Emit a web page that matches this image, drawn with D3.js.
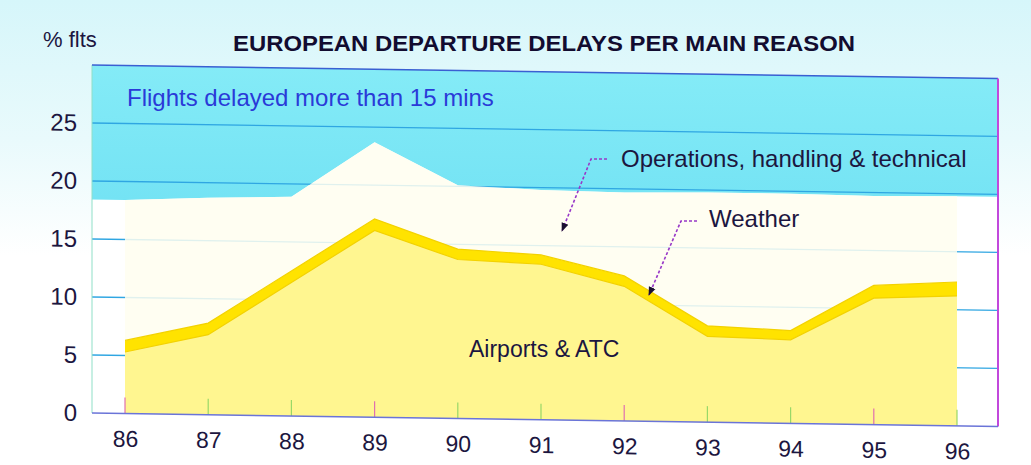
<!DOCTYPE html>
<html>
<head>
<meta charset="utf-8">
<script src="https://cdn.jsdelivr.net/npm/d3@7"></script>
<style>
  html, body { margin: 0; padding: 0; background: #ffffff; }
  svg { display: block; font-family: "Liberation Sans", Arial, Helvetica, sans-serif; }
</style>
</head>
<body>
<svg id="chart" width="1031" height="465"></svg>
<script>
// ---- data ----
const years = [86, 87, 88, 89, 90, 91, 92, 93, 94, 95, 96];
const airportsATC = [5.3, 6.9, 11.5, 16.1, 13.7, 13.4, 11.6, 7.4, 7.2, 10.9, 11.2];
const weather     = [1.0, 1.0, 1.0, 1.0, 0.9, 0.8, 0.9, 0.9, 0.8, 1.1, 1.2];
const operations  = [12.1, 10.8, 6.4, 6.6, 5.5, 5.6, 7.2, 11.5, 11.8, 7.7, 7.4];
const yTicks = [0, 5, 10, 15, 20, 25];
const xTickLabels = ["86", "87", "88", "89", "90", "91", "92", "93", "94", "95", "96"];
const seriesKeys = ["airports", "weather", "operations"];

(function () {
// ---- layout ----
const W = 1031, H = 465;
const pLeft = 92, pRight = 998, pTop = 65, pBottom = 413;
const svg = d3.select("#chart");

const defs = svg.append("defs");
const bg = defs.append("linearGradient").attr("id", "pagebg").attr("x1", 0).attr("y1", 0).attr("x2", 0).attr("y2", 1);
bg.append("stop").attr("offset", "0%").attr("stop-color", "#d6f6fa");
bg.append("stop").attr("offset", "30%").attr("stop-color", "#e9fafc");
bg.append("stop").attr("offset", "55%").attr("stop-color", "#ffffff");
const cy = defs.append("linearGradient").attr("id", "cyanbg").attr("x1", 0).attr("y1", 0).attr("x2", 0).attr("y2", 1);
cy.append("stop").attr("offset", "0%").attr("stop-color", "#84ebf7");
cy.append("stop").attr("offset", "100%").attr("stop-color", "#74e3f4");
defs.append("marker").attr("id", "arrowhead").attr("viewBox", "0 0 10 10")
  .attr("refX", 9).attr("refY", 5).attr("markerWidth", 9).attr("markerHeight", 9)
  .attr("markerUnits", "userSpaceOnUse").attr("orient", "auto")
  .append("path").attr("d", "M0,1 L10,5 L0,9 Z").attr("fill", "#1a1030");

svg.append("rect").attr("width", W).attr("height", H).attr("fill", "url(#pagebg)");

const x = d3.scaleLinear().domain([years[0], years[years.length - 1]]).range([125, 957]);
const y = d3.scaleLinear().domain([0, 30]).range([pBottom, pTop]);

const rows = years.map((yr, i) => ({
  year: yr, airports: airportsATC[i], weather: weather[i], operations: operations[i]
}));
const stacked = d3.stack().keys(seriesKeys)(rows);
const totals = rows.map(r => r.airports + r.weather + r.operations);

// slight scan skew of the original
const g = svg.append("g").attr("transform", `translate(${pLeft},${pBottom}) skewY(0.85) translate(${-pLeft},${-pBottom})`);

// plot background
g.append("rect").attr("x", pLeft).attr("y", pTop).attr("width", pRight - pLeft).attr("height", pBottom - pTop).attr("fill", "#ffffff");

// cyan region above the total, extended flat to the plot edges
const cyanData = [{ yr: x.invert(pLeft), t: totals[0] }]
  .concat(years.map((yr, i) => ({ yr, t: totals[i] })))
  .concat([{ yr: x.invert(pRight), t: totals[totals.length - 1] }]);
g.append("path").datum(cyanData)
  .attr("d", d3.area().x(d => x(d.yr)).y0(y(30)).y1(d => y(d.t)))
  .attr("fill", "url(#cyanbg)");

// gridlines
g.selectAll("line.grid").data(yTicks.filter(t => t > 0)).join("line")
  .attr("class", "grid")
  .attr("x1", pLeft).attr("x2", pRight)
  .attr("y1", d => y(d)).attr("y2", d => y(d))
  .attr("stroke", "#2fa6e2").attr("stroke-width", 1.3);

// stacked areas
const area = d3.area().x(d => x(d.data.year)).y0(d => y(d[0])).y1(d => y(d[1]));
const fills = { airports: "#fff690", weather: "#ffe300", operations: "#fffef0" };
const opac = { airports: 1, weather: 1, operations: 0.85 };
g.selectAll("path.layer").data(stacked).join("path")
  .attr("class", "layer")
  .attr("d", area)
  .attr("fill", d => fills[d.key])
  .attr("fill-opacity", d => opac[d.key]);

// weather band edges (slightly darker)
[0, 1].forEach(k => {
  g.append("path").datum(stacked[1])
    .attr("d", d3.line().x(d => x(d.data.year)).y(d => y(d[k])))
    .attr("fill", "none").attr("stroke", "#f3d200").attr("stroke-width", 1.2);
});

// small year ticks at bottom
g.selectAll("line.ytick").data(years).join("line")
  .attr("class", "ytick")
  .attr("x1", d => x(d)).attr("x2", d => x(d))
  .attr("y1", y(0)).attr("y2", y(0) - 16)
  .attr("stroke", (d, i) => i % 3 === 0 ? "#e070b0" : "#98d868").attr("stroke-width", 1.2);

// frame
g.append("line").attr("x1", pLeft).attr("x2", pLeft).attr("y1", pTop).attr("y2", pBottom).attr("stroke", "#8fe0c8").attr("stroke-width", 1);
g.append("line").attr("x1", pLeft).attr("x2", pRight).attr("y1", pTop).attr("y2", pTop).attr("stroke", "#3a5fd2").attr("stroke-width", 1.5);
g.append("line").attr("x1", pRight).attr("x2", pRight).attr("y1", pTop).attr("y2", pBottom).attr("stroke", "#c248dc").attr("stroke-width", 2);
g.append("line").attr("x1", pLeft).attr("x2", pRight).attr("y1", pBottom).attr("y2", pBottom).attr("stroke", "#6a74d8").attr("stroke-width", 1.5);

// y axis labels
const yAxis = d3.axisLeft(y).tickValues(yTicks).tickSize(0).tickPadding(15).tickFormat(d3.format("d"));
const ya = g.append("g").attr("transform", `translate(${pLeft},0)`).call(yAxis);
ya.select(".domain").remove();
ya.selectAll("text").attr("font-size", 24).attr("fill", "#1c1640").attr("font-family", "Liberation Sans, Arial, sans-serif");

// x axis labels
const xAxis = d3.axisBottom(x).tickValues(years).tickSize(0).tickPadding(17).tickFormat((d, i) => xTickLabels[i]);
const xa = g.append("g").attr("transform", `translate(0,${pBottom})`).call(xAxis);
xa.select(".domain").remove();
xa.selectAll("text").attr("font-size", 23).attr("fill", "#1c1640").attr("font-family", "Liberation Sans, Arial, sans-serif");

// ---- texts ----
svg.append("text").attr("x", 43).attr("y", 47).attr("font-size", 22).attr("fill", "#1c1640").text("% flts");
svg.append("text").attr("x", 544).attr("y", 51).attr("text-anchor", "middle")
  .attr("font-size", 22).attr("font-weight", "bold").attr("fill", "#120c30")
  .attr("textLength", 622).attr("lengthAdjust", "spacingAndGlyphs")
  .text("EUROPEAN DEPARTURE DELAYS PER MAIN REASON");
svg.append("text").attr("x", 127).attr("y", 106).attr("font-size", 24).attr("fill", "#2a3ad8")
  .text("Flights delayed more than 15 mins");
svg.append("text").attr("x", 621).attr("y", 167).attr("font-size", 24).attr("fill", "#1c1640")
  .text("Operations, handling & technical");
svg.append("text").attr("x", 709).attr("y", 227).attr("font-size", 24).attr("fill", "#1c1640")
  .text("Weather");
svg.append("text").attr("x", 469).attr("y", 357).attr("font-size", 23).attr("fill", "#1c1640")
  .text("Airports & ATC");

// arrows
svg.append("path").attr("d", "M607,159 L591,159 L562,231")
  .attr("fill", "none").attr("stroke", "#9838c8").attr("stroke-width", 1.6)
  .attr("stroke-dasharray", "3,2").attr("marker-end", "url(#arrowhead)");
svg.append("path").attr("d", "M697,221 L681,221 L649,295")
  .attr("fill", "none").attr("stroke", "#9838c8").attr("stroke-width", 1.6)
  .attr("stroke-dasharray", "3,2").attr("marker-end", "url(#arrowhead)");
})();
</script>
</body>
</html>
